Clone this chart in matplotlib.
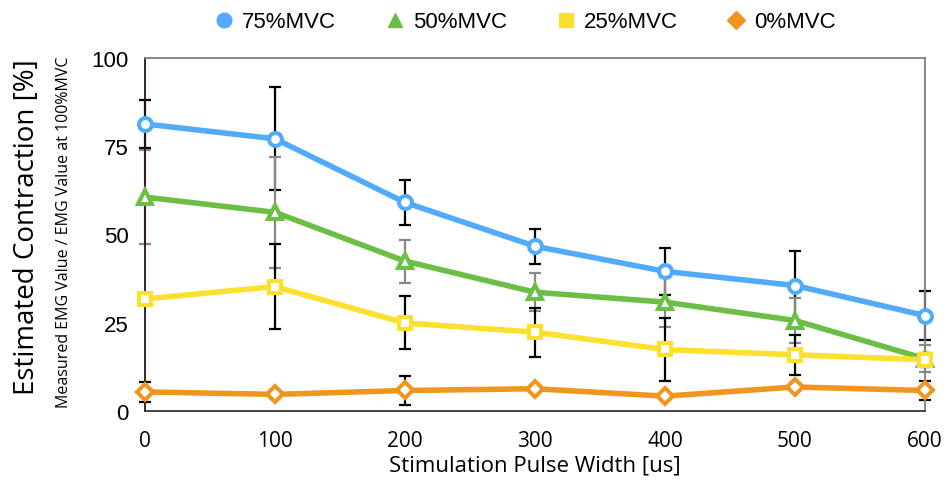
import numpy as np
import matplotlib
matplotlib.use("Agg")
import matplotlib.pyplot as plt
from matplotlib.lines import Line2D

# pulse widths [us]
pulse_width = [0, 100, 200, 300, 400, 500, 600]

# mean estimated contraction [%] for each effort level
mvc75 = [81.2, 77.0, 59.0, 46.6, 39.5, 35.5, 27.0]
mvc50 = [60.5, 56.2, 42.4, 33.6, 30.8, 25.6, 14.8]
mvc25 = [31.7, 35.2, 24.9, 22.3, 17.4, 15.9, 14.5]
mvc0 = [5.4, 4.7, 5.8, 6.3, 4.2, 6.8, 5.8]

# standard deviations
sd75 = [6.8, 14.6, 6.3, 4.9, 6.7, 9.9, 6.9]
sd50 = [13.3, 15.7, 6.1, 5.3, 7.0, 6.4, 3.8]
sd25 = [1.5, 12.0, 7.5, 6.9, 8.8, 5.7, 2.0]
sd0 = [2.9, 1.0, 4.2, 1.0, 1.0, 1.0, 2.6]

labels = ["75%MVC", "50%MVC", "25%MVC", "0%MVC"]

series = [
    (mvc75, sd75, "#52AAFA", "o", "black"),
    (mvc50, sd50, "#6DBE45", "^", "#888888"),
    (mvc25, sd25, "#FCE02E", "s", "black"),
    (mvc0, sd0, "#F0961E", "D", "black"),
]

fig = plt.figure(figsize=(9.48, 4.81), dpi=100)
ax = fig.add_axes([145/948, 1-412/481, 780/948, 353.5/481])

# error bars first so lines and markers sit on top
for vals, sd, col, mk, ecol in series:
    eb = ax.errorbar(pulse_width, vals, yerr=sd, fmt="none", ecolor=ecol,
                     elinewidth=1.6, capsize=4.5, capthick=1.6, zorder=2)
    for part in eb.lines[1] + eb.lines[2]:
        part.set_clip_on(False)

for (vals, sd, col, mk, ecol), lab in zip(series, labels):
    ms = 9.3 if mk != "D" else 8.5
    if mk == "^":
        ms = 10.5
    ax.plot(pulse_width, vals, color=col, lw=4, marker=mk, ms=ms,
            mfc="white", mec=col, mew=2.9, zorder=3, clip_on=False)

ax.set_xlim(0, 600)
ax.set_ylim(0, 100)
ax.set_xticks(pulse_width)
ax.set_yticks([0, 25, 50, 75, 100])
ax.tick_params(length=0)
ax.tick_params(axis="x", pad=14)
ax.tick_params(axis="y", pad=12)
for t in ax.get_xticklabels():
    t.set_fontfamily("Open Sans")
    t.set_fontsize(15)
for t in ax.get_yticklabels():
    t.set_fontfamily("Liberation Sans")
    t.set_fontsize(16)

ax.spines["left"].set_color("#231815")
ax.spines["bottom"].set_color("#3a3330")
ax.spines["top"].set_color("#808080")
ax.spines["right"].set_color("#808080")
for s in ax.spines.values():
    s.set_linewidth(1.3)

ax.set_xlabel("Stimulation Pulse Width [us]", fontfamily="Open Sans",
              fontsize=16, labelpad=2)

fig.text(27/948, 1-227/481, "Estimated Contraction [%]", rotation=90,
         ha="center", va="center", fontfamily="Open Sans", fontsize=20)
fig.text(64/948, 1-232/481, "Measured EMG Value / EMG Value at 100%MVC",
         rotation=90, ha="center", va="center", fontfamily="Open Sans",
         fontsize=11.5)

handles = [Line2D([], [], ls="none", marker=mk, color=col, ms=10.5 if mk != "D" else 9.5)
           for (vals, sd, col, mk, ecol) in series]
fig.legend(handles, labels, ncol=4, loc="center", bbox_to_anchor=(524/948, 1-23/481),
           frameon=False, prop={"family": "Liberation Sans", "size": 16},
           handletextpad=0.25, columnspacing=2.1, handlelength=1.1)

fig.savefig("out.png", dpi=100)
